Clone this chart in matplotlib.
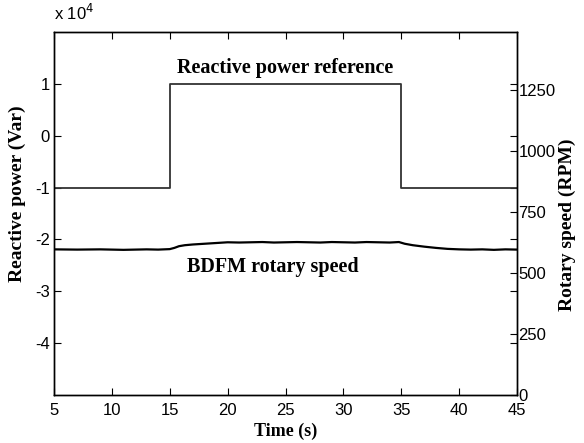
import matplotlib
matplotlib.use("Agg")
import matplotlib.pyplot as plt

# reactive power reference (Var)
ref_time = [5, 15, 15, 35, 35, 45]
ref_power = [-1e4, -1e4, 1e4, 1e4, -1e4, -1e4]

# BDFM rotary speed (RPM)
speed_time = [5, 7, 9, 11, 13, 14, 15, 15.4, 15.8, 16.3, 17, 18, 19, 20, 21, 22, 23, 24, 25,
              26, 27, 28, 29, 30, 31, 32, 33, 34, 34.8, 35.3, 36, 37, 38, 39, 40, 41, 42, 43, 44, 45]
speed_rpm = [597, 596, 597, 595, 597, 596, 598, 603, 610, 614, 617, 620, 623, 626, 625, 626, 627, 625, 626,
             627, 626, 625, 627, 626, 625, 627, 626, 625, 627, 620, 614, 608, 603, 599, 597, 596, 597, 595, 597, 596]

plt.rcParams["font.family"] = ["Liberation Sans", "DejaVu Sans"]
serif = ["Liberation Serif", "DejaVu Serif"]

fig = plt.figure(figsize=(5.84, 4.43), dpi=100)
ax = fig.add_axes([54 / 584, 48 / 443, 463 / 584, 363 / 443])
ax2 = ax.twinx()

ax.plot(ref_time, ref_power, color="#333333", linewidth=1.3)
ax2.plot(speed_time, speed_rpm, color="black", linewidth=1.6)

ax.set_xlim(5, 45)
ax.set_ylim(-5e4, 2e4)
ax.set_xticks(range(5, 50, 5))
ax.set_yticks([-4e4, -3e4, -2e4, -1e4, 0, 1e4])
ax.set_yticklabels(["-4", "-3", "-2", "-1", "0", "1"])
ax2.set_ylim(0, 1488)
ax2.set_yticks([0, 250, 500, 750, 1000, 1250])

ax.tick_params(direction="in", top=True, right=True, labelsize=12, length=5, pad=3)
ax.tick_params(axis="x", pad=6)
ax2.tick_params(direction="in", labelsize=12, length=5, pad=1)
for a in (ax, ax2):
    for s in a.spines.values():
        s.set_linewidth(1.0)

ax.text(0.0, 1.025, r"x 10$^4$", transform=ax.transAxes, fontsize=12, ha="left", va="bottom")

ax.set_xlabel("Time (s)", fontsize=13, fontweight="bold", family=serif, labelpad=3)
ax.set_ylabel("Reactive power (Var)", fontsize=14, fontweight="bold", family=serif)
ax.yaxis.set_label_coords(-0.061, 0.554)
ax2.set_ylabel("Rotary speed (RPM)", fontsize=14, fontweight="bold", family=serif)
ax2.yaxis.set_label_coords(1.091, 0.468)

ax.text(25.0, 1.31e4, "Reactive power reference", fontsize=14.5, fontweight="bold",
        family=serif, ha="center", va="center")
ax.text(23.9, -2.53e4, "BDFM rotary speed", fontsize=14.5, fontweight="bold",
        family=serif, ha="center", va="center")

fig.savefig("out.png", dpi=100)
